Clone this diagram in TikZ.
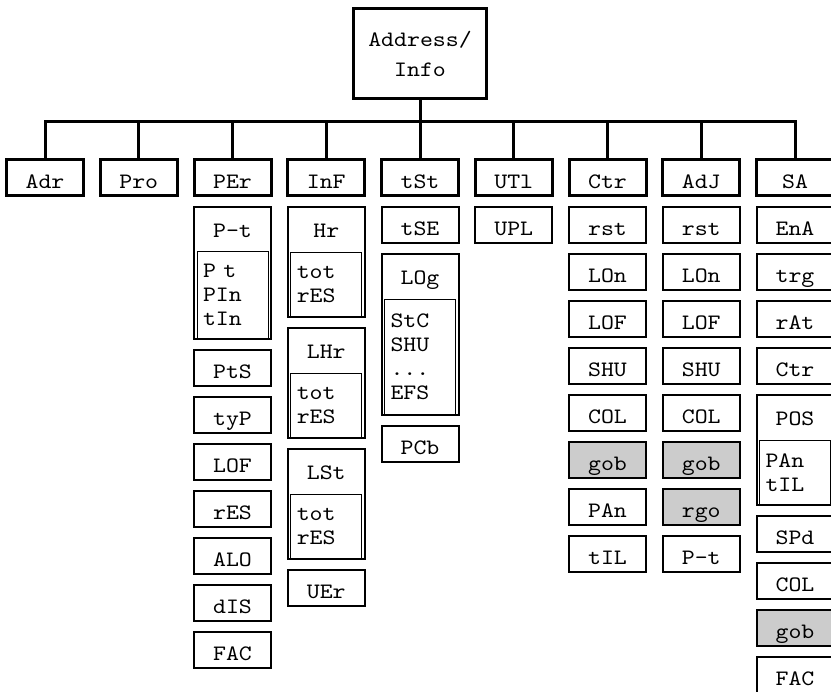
\documentclass[tikz,border=0pt]{standalone}
\usepackage{fontspec}
\usetikzlibrary{positioning}
\newfontfamily\menufamily{lmmono10-regular.otf}[FakeStretch=1.12]
\newcommand{\menufont}{\fontsize{22}{24}\selectfont\menufamily}
\definecolor{shadegray}{RGB}{204,204,204}
\tikzset{
  menuhead/.style={draw, line width=3pt, minimum width=77pt, minimum height=36pt,
    inner ysep=2pt, text height=21pt, text depth=0pt, font=\menufont},
  menuitem/.style={draw, line width=2pt, minimum width=77pt, minimum height=36pt,
    inner ysep=2pt, text height=21pt, text depth=0pt, font=\menufont},
  greyitem/.style={menuitem, fill=shadegray},
  menugroup/.style={draw, line width=2pt, minimum width=77pt},
  grouptitle/.style={anchor=base, font=\menufont},
  subbox/.style={draw, line width=1pt, text width=59pt, inner xsep=6pt, inner ysep=0pt,
    align=left, font=\menufont},
  bus/.style={line width=3pt}
}

\begin{document}
\begin{tikzpicture}[x=1pt,y=-1pt]
  \useasboundingbox (0,0) rectangle (831,692);
  \clip (0,0) rectangle (831,692);
  \node[draw, line width=3pt, minimum width=133pt, minimum height=90pt, align=center,
    font=\fontsize{22}{30}\selectfont\menufamily] (addr) at (420,53.5) {Address/\\Info};
  \coordinate (bus) at (420,122);

  \node[menuhead] (adr) at (45,178) {Adr};
  \node[menuhead, right=13.75pt of adr] (pro) {Pro};
  \node[menuhead, right=13.75pt of pro] (per) {PEr};
  \node[menuhead, right=13.75pt of per] (inf) {InF};
  \node[menuhead, right=13.75pt of inf] (tst) {tSt};
  \node[menuhead, right=13.75pt of tst] (utl) {UTl};
  \node[menuhead, right=13.75pt of utl] (ctr) {Ctr};
  \node[menuhead, right=13.75pt of ctr] (adj) {AdJ};
  \node[menuhead, right=13.75pt of adj] (sa) {SA};
  \draw[bus] (addr.south) -- (bus);
  \draw[bus] (adr.north) |- (sa.north |- bus) -- (sa.north);
  \foreach \h in {pro,per,inf,tst,utl,ctr,adj} \draw[bus] (\h.north |- bus) -- (\h.north);

  \node[menugroup, minimum height=132pt, below=8.5pt of per] (perpt) {};
  \node[grouptitle] (perptt) at ([yshift=-32pt]perpt.north) {P-t};
  \node[subbox, minimum height=87pt, above=1pt of perpt.south] (perptin) {P t\\PIn\\tIn};
  \node[menuitem, below=9pt of perpt] (perpts) {PtS};
  \node[menuitem, below=9pt of perpts] (pertyp) {tyP};
  \node[menuitem, below=9pt of pertyp] (perlof) {LOF};
  \node[menuitem, below=9pt of perlof] (perres) {rES};
  \node[menuitem, below=9pt of perres] (peralo) {ALO};
  \node[menuitem, below=9pt of peralo] (perdis) {dIS};
  \node[menuitem, below=9pt of perdis] (perfac) {FAC};

  \node[menugroup, minimum height=110pt, below=8.5pt of inf] (infhr) {};
  \node[grouptitle] (infhrt) at ([yshift=-32pt]infhr.north) {Hr};
  \node[subbox, minimum height=64pt, above=1pt of infhr.south] (infhrin) {tot\\rES};
  \node[menugroup, minimum height=110pt, below=9pt of infhr] (inflhr) {};
  \node[grouptitle] (inflhrt) at ([yshift=-32pt]inflhr.north) {LHr};
  \node[subbox, minimum height=64pt, above=1pt of inflhr.south] (inflhrin) {tot\\rES};
  \node[menugroup, minimum height=110pt, below=9pt of inflhr] (inflst) {};
  \node[grouptitle] (inflstt) at ([yshift=-32pt]inflst.north) {LSt};
  \node[subbox, minimum height=64pt, above=1pt of inflst.south] (inflstin) {tot\\rES};
  \node[menuitem, below=9pt of inflst] (infuer) {UEr};

  \node[menuitem, below=8.5pt of tst] (tsttse) {tSE};
  \node[menugroup, minimum height=161pt, below=9pt of tsttse] (tstlog) {};
  \node[grouptitle] (tstlogt) at ([yshift=-32pt]tstlog.north) {LOg};
  \node[subbox, minimum height=115pt, above=1pt of tstlog.south] (tstlogin) {StC\\SHU\\...\\EFS};
  \node[menuitem, below=9pt of tstlog] (tstpcb) {PCb};

  \node[menuitem, below=8.5pt of utl] (utlupl) {UPL};

  \node[menuitem, below=8.5pt of ctr] (ctrrst) {rst};
  \node[menuitem, below=9pt of ctrrst] (ctrlon) {LOn};
  \node[menuitem, below=9pt of ctrlon] (ctrlof) {LOF};
  \node[menuitem, below=9pt of ctrlof] (ctrshu) {SHU};
  \node[menuitem, below=9pt of ctrshu] (ctrcol) {COL};
  \node[greyitem, below=9pt of ctrcol] (ctrgob) {gob};
  \node[menuitem, below=9pt of ctrgob] (ctrpan) {PAn};
  \node[menuitem, below=9pt of ctrpan] (ctrtil) {tIL};

  \node[menuitem, below=8.5pt of adj] (adjrst) {rst};
  \node[menuitem, below=9pt of adjrst] (adjlon) {LOn};
  \node[menuitem, below=9pt of adjlon] (adjlof) {LOF};
  \node[menuitem, below=9pt of adjlof] (adjshu) {SHU};
  \node[menuitem, below=9pt of adjshu] (adjcol) {COL};
  \node[greyitem, below=9pt of adjcol] (adjgob) {gob};
  \node[greyitem, below=9pt of adjgob] (adjrgo) {rgo};
  \node[menuitem, below=9pt of adjrgo] (adjpt) {P-t};

  \node[menuitem, below=8.5pt of sa] (saena) {EnA};
  \node[menuitem, below=9pt of saena] (satrg) {trg};
  \node[menuitem, below=9pt of satrg] (sarat) {rAt};
  \node[menuitem, below=9pt of sarat] (sactr) {Ctr};
  \node[menugroup, minimum height=110pt, below=9pt of sactr] (sapos) {};
  \node[grouptitle] (sapost) at ([yshift=-32pt]sapos.north) {POS};
  \node[subbox, minimum height=64pt, above=1pt of sapos.south] (saposin) {PAn\\tIL};
  \node[menuitem, below=9pt of sapos] (saspd) {SPd};
  \node[menuitem, below=9pt of saspd] (sacol) {COL};
  \node[greyitem, below=9pt of sacol] (sagob) {gob};
  \node[menuitem, below=9pt of sagob] (safac) {FAC};
\end{tikzpicture}
\end{document}
